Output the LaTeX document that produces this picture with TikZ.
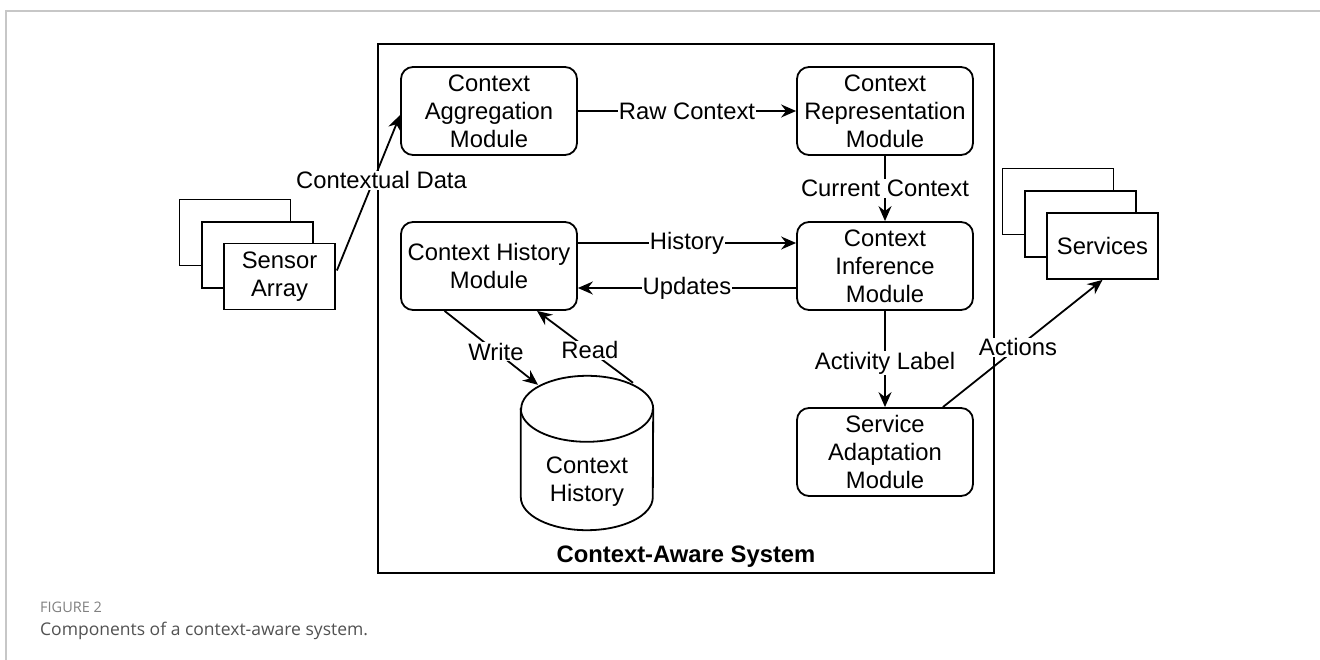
\documentclass[tikz,border=0pt]{standalone}
\usepackage{fontspec}
\setmainfont{Liberation Sans}
\newfontfamily\capfont{Open Sans}
\usetikzlibrary{arrows.meta,calc}

\begin{document}
\begin{tikzpicture}[x=1pt,y=-1pt,
  txt/.style={font=\fontsize{23.8}{28}\selectfont},
  module/.style={draw, line width=1.8pt, rounded corners=12pt, fill=white,
    minimum width=176pt, minimum height=88pt, inner sep=0pt, align=center, txt},
  sheet/.style={draw, line width=1.8pt, fill=white, minimum width=111pt,
    minimum height=66pt, inner sep=0pt, align=center, txt},
  link/.style={line width=1.8pt, -{Stealth[length=15pt, width=13pt, inset=5pt]}},
  edgelabel/.style={fill=white, inner sep=1pt, txt},
]
\useasboundingbox (0,0) rectangle (1320,660);
\fill[white] (0,0) rectangle (1320,660);

% page frame
\draw[line width=1.5pt, black!22] (6,660) -- (6,11) -- (1320,11);

% system boundary
\node[draw, line width=2.2pt, minimum width=616pt, minimum height=529pt, inner sep=0pt] (sys) at (686,308.5) {};
\node[anchor=base, font=\bfseries\fontsize{23.8}{28}\selectfont] (systitle) at (686,562) {Context-Aware System};

% modules
\node[module] (agg)   at (489,111) {Context\\Aggregation\\Module};
\node[module] (rep)   at (885,111) {Context\\Representation\\Module};
\node[module] (hist)  at (489,266) {Context History\\Module};
\node[module] (inf)   at (885,266) {Context\\Inference\\Module};
\node[module] (adapt) at (885,452) {Service\\Adaptation\\Module};

% sensor stack
\node[sheet] (sensC) at (235,232.5) {};
\node[sheet] (sensB) at (257.5,255) {};
\node[sheet] (sensA) at (279.5,276.5) {Sensor\\Array};

% services stack
\node[sheet] (servC) at (1058,201.5) {};
\node[sheet] (servB) at (1080.5,224) {};
\node[sheet] (servA) at (1102.5,246) {Services};

% history store (cylinder)
\node[minimum width=132pt, minimum height=154pt, inner sep=0pt] (db) at (587,453) {};
\draw[line width=1.8pt, fill=white]
  ($(db.north west)+(0,33)$) -- ($(db.south west)+(0,-33)$)
  arc[start angle=180, end angle=360, x radius=66pt, y radius=33pt]
  -- ($(db.north east)+(0,33)$)
  arc[start angle=0, end angle=180, x radius=66pt, y radius=33pt] -- cycle;
\draw[line width=1.8pt] ($(db.north west)+(0,33)$)
  arc[start angle=180, end angle=360, x radius=66pt, y radius=33pt];
\node[txt, align=center] (dbtext) at (587,482) {Context\\History};

% data flow
\draw[link] ($(sensA.east)+(1,-6)$) -- node[edgelabel, pos=0.58, xshift=8pt] {Contextual Data} ($(agg.west)+(0,4)$);
\draw[link] (agg.east) -- node[edgelabel] {Raw Context} (rep.west);
\draw[link] (rep.south) -- node[edgelabel] {Current Context} (inf.north);
\draw[link] ($(hist.east)+(0,-23)$) -- node[edgelabel] {History} ($(inf.west)+(0,-23)$);
\draw[link] ($(inf.west)+(0,22)$) -- node[edgelabel] {Updates} ($(hist.east)+(0,22)$);
\draw[link] (inf.south) -- node[edgelabel, pos=0.54] {Activity Label} (adapt.north);
\draw[link] ($(adapt.north east)+(-31,0)$) -- node[edgelabel, pos=0.47] {Actions} (servA.south);
\draw[link] ($(hist.south west)!0.25!(hist.south east)$) -- node[edgelabel, pos=0.55] {Write} ($(db.north)+(-49,9)$);
\draw[link] ($(db.north)+(46,7)$) -- node[edgelabel, pos=0.45] {Read} ($(hist.south west)!0.77!(hist.south east)$);

% caption
\node[anchor=base west, inner sep=0pt, font=\capfont\fontsize{14.5}{17}\selectfont, text=black!50] (fignum) at (40,612) {FIGURE 2};
\node[anchor=base west, inner sep=0pt, font=\capfont\fontsize{17.5}{21}\selectfont, text=black!68] (figcap) at (40,635) {Components of a context-aware system.};
\end{tikzpicture}
\end{document}
